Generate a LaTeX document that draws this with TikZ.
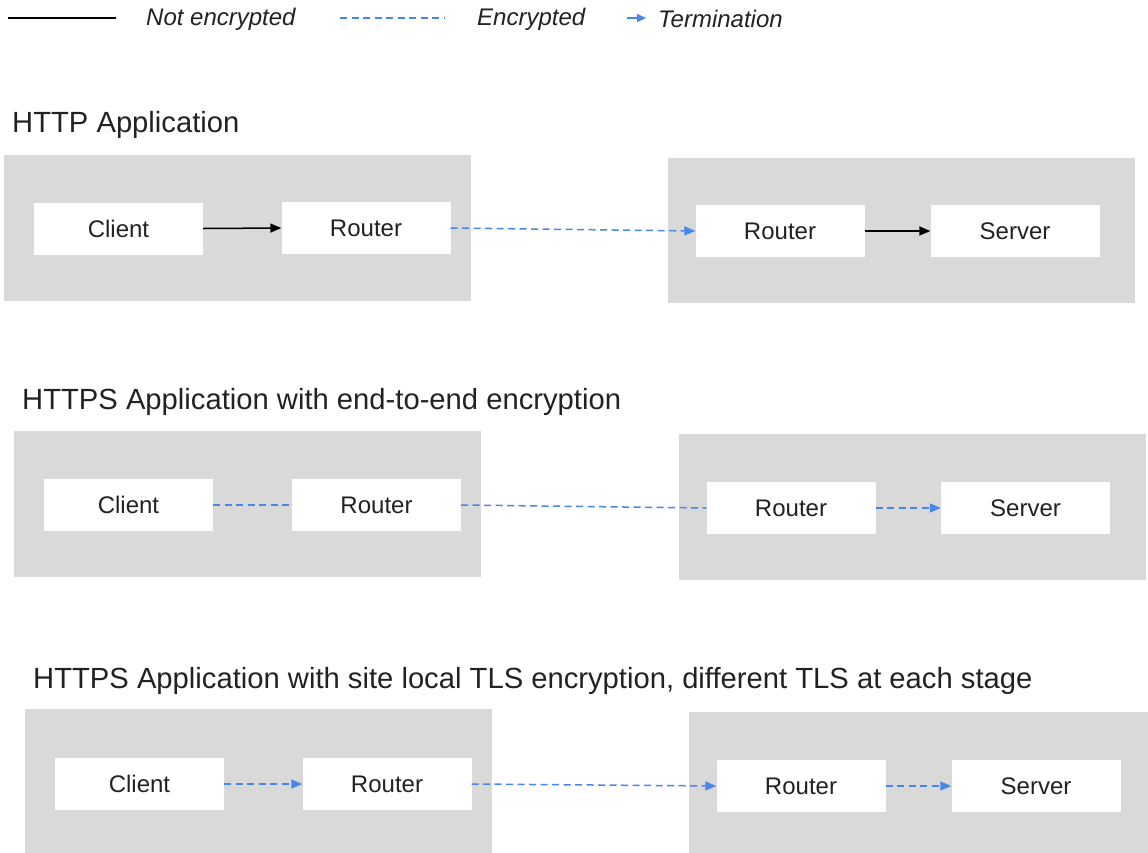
\documentclass[tikz,border=0pt]{standalone}
\usepackage{fontspec}
\setmainfont{Liberation Sans}
\usetikzlibrary{arrows.meta}
\definecolor{boxgray}{HTML}{D9D9D9}
\definecolor{encblue}{HTML}{4A86E8}
\definecolor{txt}{HTML}{222222}
\tikzset{
  graybox/.style={fill=boxgray, draw=none},
  nodebox/.style={fill=white, draw=none, minimum width=169pt, minimum height=52pt, inner sep=0pt, font=\fontsize{24}{29}\selectfont, text=txt},
  titletext/.style={anchor=base west, inner sep=0pt, font=\fontsize{29.2}{35}\selectfont, text=txt},
  legtext/.style={anchor=west, inner sep=0pt, font=\fontsize{24}{29}\selectfont\itshape, text=txt},
  plain/.style={draw=black, line width=1.5pt},
  enc/.style={draw=encblue, line width=1.5pt, dash pattern=on 7pt off 4.5pt},
  tip/.style={-{Triangle[length=11pt,width=9pt]}},
}
\begin{document}
\begin{tikzpicture}[x=1pt,y=-1pt]
\useasboundingbox (0,0) rectangle (1148,852);
\clip (0,0) rectangle (1148,852);

% legend
\coordinate (la) at (8,18); \coordinate (lb) at (116,18);
\draw[plain, line width=2.4pt] (la) -- (lb);
\node[legtext] (lnot) at (146,19) {Not encrypted};
\coordinate (lc) at (340,18); \coordinate (ld) at (445,18);
\draw[enc] (lc) -- (ld);
\node[legtext] (lenc) at (477,19) {Encrypted};
\coordinate (le) at (627,18); \coordinate (lf) at (646,18);
\draw[draw=encblue, line width=1.5pt, -{Triangle[length=9pt,width=8pt]}] (le) -- (lf);
\node[legtext] (lterm) at (658,19) {Termination};

% section 1
\node[titletext] (t1) at (12,132) {HTTP Application};
\fill[graybox] (4,155) rectangle (471,301);
\fill[graybox] (668,158) rectangle (1135,303);
\node[nodebox] (c1) at (118.5,228.5) {Client};
\node[nodebox] (r1) at (366,228) {Router};
\node[nodebox] (r2) at (780,231) {Router};
\node[nodebox] (s1) at (1015,231) {Server};
\draw[plain, tip] (c1.east) -- (r1.west);
\draw[enc, tip] (r1.east) -- (r2.west);
\draw[plain, tip] (r2.east) -- (s1.west);

% section 2
\node[titletext] (t2) at (22,409) {HTTPS Application with end-to-end encryption};
\fill[graybox] (14,431) rectangle (481,577);
\fill[graybox] (679,434) rectangle (1146,580);
\node[nodebox] (c2) at (128.5,505) {Client};
\node[nodebox] (r3) at (376.5,505) {Router};
\node[nodebox] (r4) at (791,508) {Router};
\node[nodebox] (s2) at (1025.5,508) {Server};
\draw[enc] (c2.east) -- (r3.west);
\draw[enc] (r3.east) -- (r4.west);
\draw[enc, tip] (r4.east) -- (s2.west);

% section 3
\node[titletext] (t3) at (33,688) {HTTPS Application with site local TLS encryption, different TLS at each stage};
\fill[graybox] (25,709) rectangle (492,860);
\fill[graybox] (689,712) rectangle (1160,860);
\node[nodebox] (c3) at (139.5,784) {Client};
\node[nodebox] (r5) at (387,784) {Router};
\node[nodebox] (r6) at (801,786) {Router};
\node[nodebox] (s3) at (1036,786) {Server};
\draw[enc, tip] (c3.east) -- (r5.west);
\draw[enc, tip] (r5.east) -- (r6.west);
\draw[enc, tip] (r6.east) -- (s3.west);
\end{tikzpicture}
\end{document}
